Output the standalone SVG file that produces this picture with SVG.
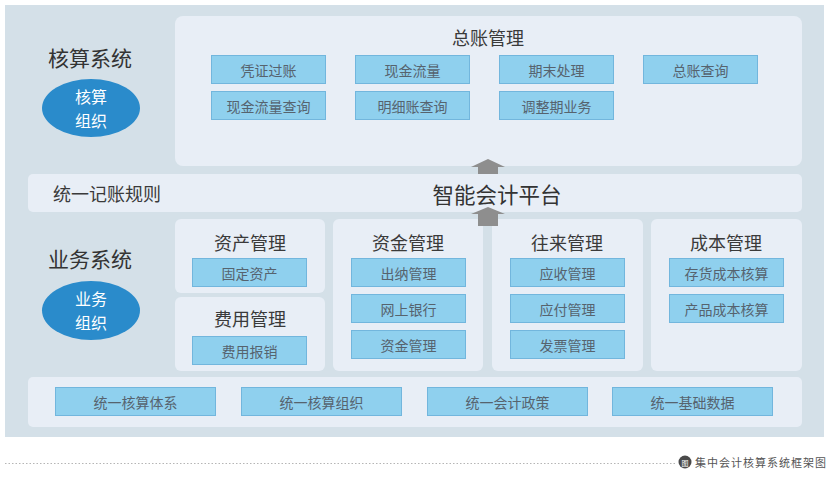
<svg xmlns="http://www.w3.org/2000/svg" width="830" height="478" viewBox="0 0 830 478">
<style>
text{font-family:"Noto Sans CJK SC","Noto Sans",sans-serif;}
.panel{fill:#e8eef6;}
.box{fill:#8fd0ee;stroke:#72b6dd;stroke-width:1;}
.bt{font-size:14px;fill:#56636e;text-anchor:middle;dominant-baseline:central;}
.ht{font-size:21px;fill:#333;dominant-baseline:central;}
.pt{font-size:18px;fill:#3a3a3a;text-anchor:middle;dominant-baseline:central;}
.et{font-size:16px;fill:#fff;text-anchor:middle;}
.org{fill:#2a8bcb;}
.arrow{fill:#8e8e8e;}
</style>
<rect x="0" y="0" width="830" height="478" fill="#ffffff"/>
<rect x="5" y="5" width="819" height="432" fill="#d4e0e8"/>

<g id="accounting-system">
<text class="ht" x="48" y="57">核算系统</text>
<ellipse class="org" cx="91" cy="108" rx="49" ry="29"/>
<text class="et" x="91" y="102.5">核算</text>
<text class="et" x="91" y="126.5">组织</text>
</g>

<g id="general-ledger">
<rect class="panel" x="175" y="16" width="627" height="150" rx="8"/>
<text class="pt" x="488" y="37">总账管理</text>
<rect class="box" x="211.5" y="55.5" width="114" height="28"/>
<text class="bt" x="268.5" y="69.5">凭证过账</text>
<rect class="box" x="355.5" y="55.5" width="114" height="28"/>
<text class="bt" x="412.5" y="69.5">现金流量</text>
<rect class="box" x="499.5" y="55.5" width="114" height="28"/>
<text class="bt" x="556.5" y="69.5">期末处理</text>
<rect class="box" x="643.5" y="55.5" width="114" height="28"/>
<text class="bt" x="700.5" y="69.5">总账查询</text>
<rect class="box" x="211.5" y="91.5" width="114" height="28"/>
<text class="bt" x="268.5" y="105.5">现金流量查询</text>
<rect class="box" x="355.5" y="91.5" width="114" height="28"/>
<text class="bt" x="412.5" y="105.5">明细账查询</text>
<rect class="box" x="499.5" y="91.5" width="114" height="28"/>
<text class="bt" x="556.5" y="105.5">调整期业务</text>
</g>

<g id="platform">
<rect class="panel" x="28" y="174" width="774" height="38" rx="5"/>
<text x="53" y="193" font-size="18" fill="#3a3a3a" dominant-baseline="central">统一记账规则</text>
<text x="497" y="193" font-size="21.5" fill="#333" text-anchor="middle" dominant-baseline="central">智能会计平台</text>
</g>

<g id="business-system">
<text class="ht" x="48" y="258">业务系统</text>
<ellipse class="org" cx="91" cy="310.5" rx="49" ry="29.5"/>
<text class="et" x="91" y="305">业务</text>
<text class="et" x="91" y="329">组织</text>
</g>

<g id="asset-mgmt">
<rect class="panel" x="175" y="219" width="150" height="74" rx="6"/>
<text class="pt" x="250" y="242">资产管理</text>
<rect class="box" x="192.5" y="258.5" width="114" height="28"/>
<text class="bt" x="249.5" y="272.5">固定资产</text>
</g>

<g id="expense-mgmt">
<rect class="panel" x="175" y="297" width="150" height="74" rx="6"/>
<text class="pt" x="250" y="318">费用管理</text>
<rect class="box" x="192.5" y="336.5" width="114" height="28"/>
<text class="bt" x="249.5" y="350.5">费用报销</text>
</g>

<g id="fund-mgmt">
<rect class="panel" x="333" y="219" width="150" height="152" rx="6"/>
<text class="pt" x="408" y="242">资金管理</text>
<rect class="box" x="351.5" y="258.5" width="114" height="28"/>
<text class="bt" x="408.5" y="272.5">出纳管理</text>
<rect class="box" x="351.5" y="294.5" width="114" height="28"/>
<text class="bt" x="408.5" y="308.5">网上银行</text>
<rect class="box" x="351.5" y="330.5" width="114" height="28"/>
<text class="bt" x="408.5" y="344.5">资金管理</text>
</g>

<g id="ar-ap-mgmt">
<rect class="panel" x="492" y="219" width="151" height="152" rx="6"/>
<text class="pt" x="567" y="242">往来管理</text>
<rect class="box" x="510.5" y="258.5" width="114" height="28"/>
<text class="bt" x="567.5" y="272.5">应收管理</text>
<rect class="box" x="510.5" y="294.5" width="114" height="28"/>
<text class="bt" x="567.5" y="308.5">应付管理</text>
<rect class="box" x="510.5" y="330.5" width="114" height="28"/>
<text class="bt" x="567.5" y="344.5">发票管理</text>
</g>

<g id="cost-mgmt">
<rect class="panel" x="651" y="219" width="151" height="152" rx="6"/>
<text class="pt" x="726" y="242">成本管理</text>
<rect class="box" x="669.5" y="258.5" width="114" height="28"/>
<text class="bt" x="726.5" y="272.5">存货成本核算</text>
<rect class="box" x="669.5" y="294.5" width="114" height="28"/>
<text class="bt" x="726.5" y="308.5">产品成本核算</text>
</g>

<g id="foundation">
<rect class="panel" x="28" y="377" width="774" height="50" rx="5"/>
<rect class="box" x="55.5" y="387.5" width="160" height="28"/>
<text class="bt" x="135.5" y="401.5">统一核算体系</text>
<rect class="box" x="241.5" y="387.5" width="160" height="28"/>
<text class="bt" x="321.5" y="401.5">统一核算组织</text>
<rect class="box" x="427.5" y="387.5" width="160" height="28"/>
<text class="bt" x="507.5" y="401.5">统一会计政策</text>
<rect class="box" x="612.5" y="387.5" width="160" height="28"/>
<text class="bt" x="692.5" y="401.5">统一基础数据</text>
</g>

<g id="connectors">
<path class="arrow" d="M488 159 L505 167 L498 167 L498 174 L478 174 L478 167 L471 167 Z"/>
<path class="arrow" d="M488 207 L505 214 L498 214 L498 226 L478 226 L478 214 L471 214 Z"/>
</g>

<g id="caption">
<line x1="5" y1="463.5" x2="676" y2="463.5" stroke="#b5b5b5" stroke-width="1" stroke-dasharray="1.5,2"/>
<circle cx="685" cy="462" r="6.5" fill="#4a4a4a"/>
<text x="685" y="462.5" font-size="7" fill="#fff" text-anchor="middle" dominant-baseline="central">图</text>
<text x="695" y="462" font-size="11" fill="#555" letter-spacing="1" dominant-baseline="central">集中会计核算系统框架图</text>
</g>
</svg>
